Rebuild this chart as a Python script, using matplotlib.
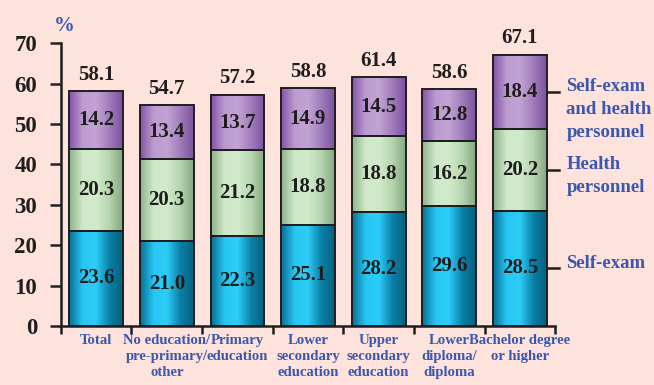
import numpy as np
import matplotlib
matplotlib.use("Agg")
import matplotlib.pyplot as plt
from matplotlib.colors import LinearSegmentedColormap

plt.rcParams['font.family'] = ['Liberation Serif', 'DejaVu Serif']
plt.rcParams['font.weight'] = 'bold'

categories = ["Total", "No education/\npre-primary/\nother", "Primary\neducation",
              "Lower\nsecondary\neducation", "Upper\nsecondary\neducation",
              "Lower\ndiploma/\ndiploma", "Bachelor degree\nor higher"]
self_exam = [23.6, 21.0, 22.3, 25.1, 28.2, 29.6, 28.5]
health = [20.3, 20.3, 21.2, 18.8, 18.8, 16.2, 20.2]
both = [14.2, 13.4, 13.7, 14.9, 14.5, 12.8, 18.4]
totals = [58.1, 54.7, 57.2, 58.8, 61.4, 58.6, 67.1]
series_names = ["Self-exam", "Health\npersonnel", "Self-exam\nand health\npersonnel"]

bg = "#fde3db"
blue_txt = "#3b57b0"
dark = "#1e1e1e"

# horizontal shading for each series: dark edges, light middle
cmaps = [
    LinearSegmentedColormap.from_list("b", ["#0a6f95", "#27c6f4", "#2ccdf8", "#0b80a8", "#06617f"]),
    LinearSegmentedColormap.from_list("g", ["#8fb48b", "#cfe8c8", "#d2eacb", "#b5d6ae", "#86a882"]),
    LinearSegmentedColormap.from_list("p", ["#8456a8", "#bd9bd0", "#c2a3d3", "#a17dbb", "#7d52a0"]),
]

fig = plt.figure(figsize=(6.54, 3.85), dpi=100, facecolor=bg)
ax = fig.add_axes([0.093, 0.153, 0.756, 0.735], facecolor=bg)

x = np.arange(len(categories))
width = 0.76
grad = np.linspace(0, 1, 64).reshape(1, -1)

layers = [self_exam, health, both]
bottom = np.zeros(len(x))
for vals, cm in zip(layers, cmaps):
    vals = np.array(vals)
    for xi, b, v in zip(x, bottom, vals):
        ax.imshow(grad, cmap=cm, extent=(xi - width / 2, xi + width / 2, b, b + v),
                  aspect='auto', zorder=2, interpolation='bilinear')
        ax.text(xi, b + v / 2, f"{v:.1f}", ha='center', va='center',
                fontsize=15, color=dark, zorder=4)
    ax.bar(x, vals, width, bottom=bottom, facecolor='none',
           edgecolor=dark, linewidth=1.4, zorder=3)
    bottom = bottom + vals

for xi, t, top in zip(x, totals, bottom):
    ax.text(xi, top + 1.6, f"{t:.1f}", ha='center', va='bottom',
            fontsize=15, color=dark, clip_on=False)

ax.set_xlim(-0.5, len(x) - 0.5)
ax.set_ylim(0, 70)

for s in ['top', 'right']:
    ax.spines[s].set_visible(False)
for s in ['left', 'bottom']:
    ax.spines[s].set_linewidth(1.8)
    ax.spines[s].set_color(dark)

ax.set_yticks(range(0, 71, 10))
ax.tick_params(axis='y', direction='out', length=8, width=1.8, pad=9,
               labelsize=16.5, colors=dark)

# category boundaries as ticks, names as minor ticks
ax.set_xticks(np.arange(-0.5, len(x), 1.0))
ax.set_xticklabels([])
ax.tick_params(axis='x', which='major', direction='out', length=6, width=1.8, color=dark)
ax.set_xticks(x, minor=True)
ax.set_xticklabels(categories, minor=True, fontsize=10.6, color=blue_txt, linespacing=1.3)
ax.tick_params(axis='x', which='minor', length=0, pad=6)

# series labels at the right of the last bar
last = len(x) - 1
starts = np.cumsum([0] + [l[last] for l in layers[:-1]])
for s0, l, name in zip(starts, layers, series_names):
    yc = s0 + l[last] / 2
    ax.plot([last + 0.38, last + 0.56], [yc, yc], color=dark, lw=1.8,
            clip_on=False, zorder=3)
    ax.annotate(name, xy=(last + 0.56, yc), xytext=(5, 10), textcoords='offset points',
                ha='left', va='top', fontsize=13.5, color=blue_txt, linespacing=1.45,
                annotation_clip=False)

ax.text(-0.45, 74.3, "%", ha='center', va='center', fontsize=15,
        color=blue_txt, clip_on=False)

fig.savefig("out.png", dpi=100, facecolor=bg)
